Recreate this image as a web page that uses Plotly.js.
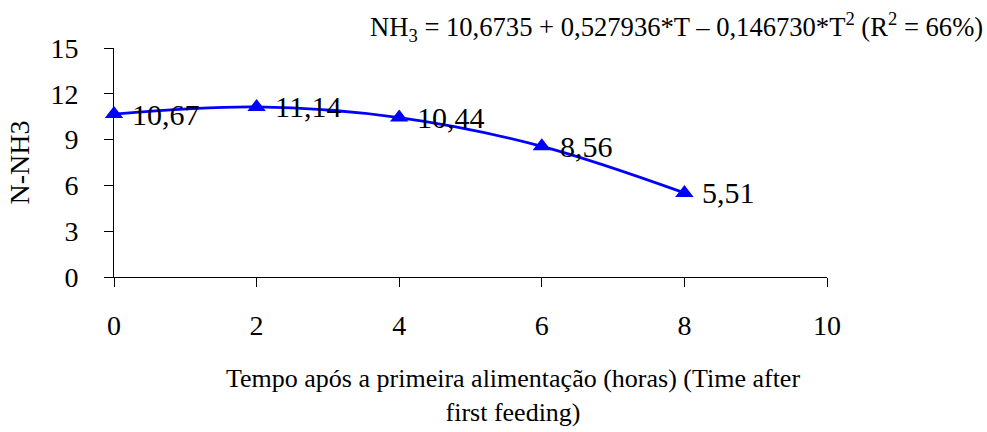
<!DOCTYPE html>
<html>
<head>
<meta charset="utf-8">
<script src="https://cdn.plot.ly/plotly-3.0.1.min.js"></script>
<style>html,body{margin:0;padding:0;background:#fff;}#chart{width:987px;height:432px;}</style>
</head>
<body>
<div id="chart"></div>
<script>
const hours = [0, 2, 4, 6, 8];
const nh3 = [10.67, 11.14, 10.44, 8.56, 5.51];
const pointLabels = ["10,67", "11,14", "10,44", "8,56", "5,51"];
const xTicks = [0, 2, 4, 6, 8, 10];
const yTicks = [0, 3, 6, 9, 12, 15];
const equationText = "NH<sub>3</sub> = 10,6735 + 0,527936*T – 0,146730*T<sup>2</sup> (R<sup>2</sup> = 66%)";
const xTitle = "Tempo após a primeira alimentação (horas) (Time after<br>first feeding)";
const yTitle = "N-NH3";

const SERIF = "Liberation Serif";

function draw() {
  const trace = {
    x: hours,
    y: nh3,
    mode: "lines+markers",
    type: "scatter",
    line: {color: "#0000FF", width: 2.75, shape: "spline", smoothing: 1},
    marker: {symbol: "triangle-up", size: 16, color: "#0000FF"},
    cliponaxis: false,
    hoverinfo: "x+y"
  };

  const labelAnnotations = hours.map((h, i) => ({
    x: h,
    y: nh3[i],
    xref: "x",
    yref: "y",
    text: pointLabels[i],
    xanchor: "left",
    yanchor: "middle",
    xshift: 16,
    showarrow: false,
    font: {family: SERIF, size: 30, color: "#000"}
  }));

  const layout = {
    width: 987,
    height: 432,
    margin: {l: 114, r: 160, t: 48, b: 155},
    paper_bgcolor: "#fff",
    plot_bgcolor: "#fff",
    showlegend: false,
    font: {family: SERIF, color: "#000"},
    xaxis: {
      range: [0, 10],
      tickvals: xTicks,
      ticktext: xTicks.map(String),
      ticks: "outside",
      ticklen: 9,
      tickcolor: "#000",
      showline: true,
      linecolor: "#000",
      linewidth: 1,
      showgrid: false,
      zeroline: false,
      ticklabelstandoff: 14,
      tickfont: {family: SERIF, size: 28, color: "#000"}
    },
    yaxis: {
      range: [0, 15],
      tickvals: yTicks,
      ticktext: yTicks.map(String),
      ticks: "outside",
      ticklen: 9,
      tickcolor: "#000",
      showline: true,
      linecolor: "#000",
      linewidth: 1,
      showgrid: false,
      zeroline: false,
      ticklabelstandoff: 20,
      tickfont: {family: SERIF, size: 28, color: "#000"},
      title: {text: yTitle, font: {family: SERIF, size: 28, color: "#000"}, standoff: 12}
    },
    annotations: labelAnnotations.concat([
      {
        text: equationText,
        xref: "paper", yref: "paper",
        x: 1.2216, y: 1.0,
        xanchor: "right", yanchor: "bottom",
        yshift: 0,
        showarrow: false,
        font: {family: SERIF, size: 26.6, color: "#000"}
      },
      {
        text: xTitle,
        xref: "paper", yref: "paper",
        x: 0.56, y: 0,
        xanchor: "center", yanchor: "top",
        yshift: -85,
        showarrow: false,
        align: "center",
        font: {family: SERIF, size: 26, color: "#000"}
      }
    ])
  };

  Plotly.newPlot("chart", [trace], layout, {displayModeBar: false, staticPlot: true});
}

if (document.fonts && document.fonts.load) {
  document.fonts.load('28px "Liberation Serif"').then(draw, draw);
} else {
  draw();
}
</script>
</body>
</html>
